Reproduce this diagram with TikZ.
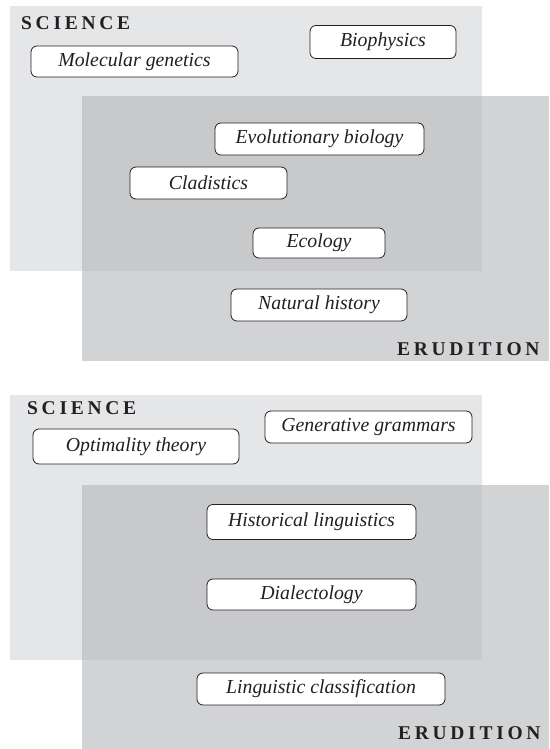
\documentclass[tikz,border=0pt]{standalone}
\usepackage{fontspec}
\setmainfont{Liberation Serif}
\newfontfamily\trackedfont[LetterSpace=19]{Liberation Serif}
\usepackage{tikz}
\usetikzlibrary{positioning}

\definecolor{scigray}{RGB}{229,230,232}
\definecolor{erugray}{RGB}{210,211,213}
\definecolor{bothgray}{RGB}{200,201,203}
\definecolor{inkgray}{RGB}{35,31,32}
\newcommand{\fieldname}[1]{{\trackedfont\bfseries\fontsize{19.5}{22}\selectfont #1}}

\begin{document}
\begin{tikzpicture}[x=1pt, y=-1pt,
    field/.style={inner sep=0pt, anchor=base west, text=inkgray},
    topic/.style={draw=inkgray, text=inkgray, fill=white, rounded corners=6pt, line width=0.8pt,
        inner sep=0pt, font=\fontsize{19.8}{22}\selectfont\itshape}]
                    \useasboundingbox (0,0) rectangle (549,749);
                    % upper panel
                    \fill[scigray] (10,6) rectangle (482,271);
                    \fill[erugray] (82,96) rectangle (549,361);
                    \fill[bothgray] (82,96) rectangle (482,271);
                    \node[field] (sci1) at (21,30) {\fieldname{SCIENCE}};
                    \node[field] (eru1) at (397,355) {\fieldname{ERUDITION}};
                    \node[topic, minimum width=207pt, minimum height=31pt] (molgen) at (134.5,61.5) {Molecular genetics};
                    \node[topic, minimum width=146pt, minimum height=33pt] (biophys) at (383,42) {Biophysics};
                    \node[topic, minimum width=209pt, minimum height=32pt] (evobio) at (319.5,139) {Evolutionary biology};
                    \node[topic, minimum width=157pt, minimum height=32pt] (clad) at (208.5,183) {Cladistics};
                    \node[topic, minimum width=132pt, minimum height=30pt] (eco) at (319,243) {Ecology};
                    \node[topic, minimum width=176pt, minimum height=32pt] (nathist) at (319,305) {Natural history};
                    % lower panel
                    \fill[scigray] (10,395) rectangle (482,660);
                    \fill[erugray] (82,485) rectangle (549,749);
                    \fill[bothgray] (82,485) rectangle (482,660);
                    \node[field] (sci2) at (27,414) {\fieldname{SCIENCE}};
                    \node[field] (eru2) at (398,739) {\fieldname{ERUDITION}};
                    \node[topic, minimum width=206pt, minimum height=35pt] (optim) at (136,446.5) {Optimality theory};
                    \node[topic, minimum width=207pt, minimum height=32pt] (gengram) at (368.5,427) {Generative grammars};
                    \node[topic, minimum width=209pt, minimum height=35pt] (histling) at (311.5,522) {Historical linguistics};
                    \node[topic, minimum width=209pt, minimum height=31pt] (dialect) at (311.5,594.5) {Dialectology};
                    \node[topic, minimum width=248pt, minimum height=32pt] (lingclass) at (321,689) {Linguistic classification};
               \end{tikzpicture}
\end{document}
